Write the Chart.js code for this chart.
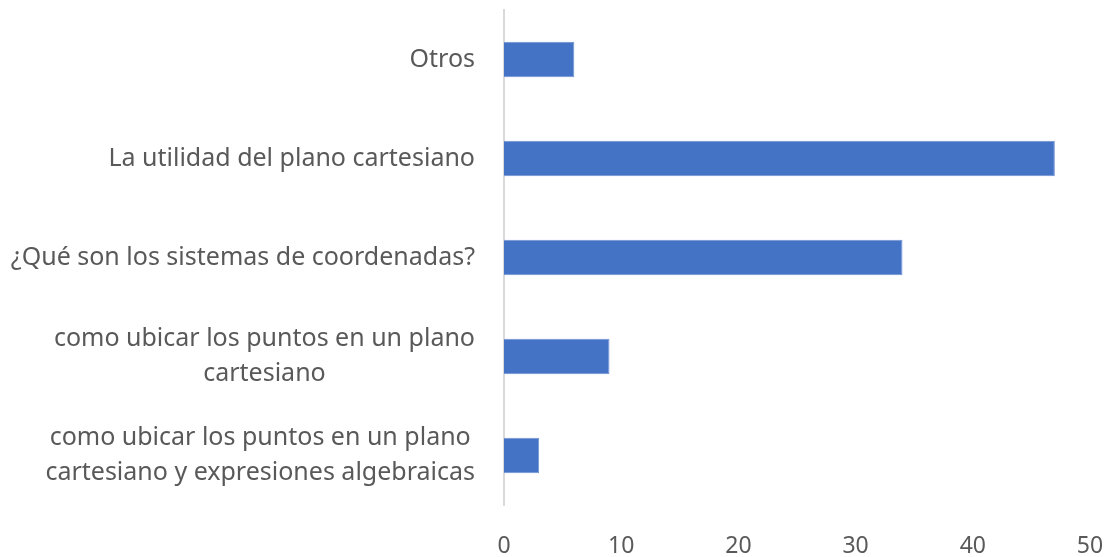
<!DOCTYPE html>
<html>
<head>
<meta charset="utf-8">
<script src="https://cdn.jsdelivr.net/npm/chart.js@4"></script>
<style>
  html, body { margin: 0; padding: 0; background: #fff; }
  #wrap { width: 1109px; height: 557px; }
</style>
</head>
<body>
<div id="wrap"><canvas id="chart"></canvas></div>
<script>
// categories top to bottom, multi-line labels kept as arrays
const categories = [
    ['Otros'],
    ['La utilidad del plano cartesiano'],
    ['¿Qué son los sistemas de coordenadas?'],
    ['como ubicar los puntos en un plano', 'cartesiano'],
    ['como ubicar los puntos en un plano', 'cartesiano y expresiones algebraicas']
];
const values = [6, 47, 34, 9, 3];
const xTicks = [0, 10, 20, 30, 40, 50];

const FONT = '"Noto Sans", "Open Sans", sans-serif';
const TEXT = '#595959';

// draws the category labels: each block right-aligned to the axis, lines centered inside it
const categoryLabels = {
    id: 'categoryLabels',
    afterDraw(chart) {
        const ctx = chart.ctx;
        const y = chart.scales.y;
        const right = chart.chartArea.left - 29;
        const lineH = 35;
        ctx.save();
        ctx.font = '25px ' + FONT;
        ctx.fillStyle = TEXT;
        ctx.textAlign = 'center';
        ctx.textBaseline = 'middle';
        categories.forEach((lines, i) => {
            const cy = y.getPixelForValue(i);
            const w = Math.max(...lines.map(l => ctx.measureText(l).width));
            const cx = right - w / 2;
            const top = cy - (lines.length - 1) * lineH / 2;
            lines.forEach((l, j) => ctx.fillText(l, cx, top + j * lineH));
        });
        ctx.restore();
    }
};

try {
    new Chart(document.getElementById('chart'), {
        type: 'bar',
        data: {
            labels: categories,
            datasets: [{
                data: values,
                backgroundColor: '#4472c4',
                borderColor: '#6f93d3',
                borderWidth: 1,
                barPercentage: 0.36,
                categoryPercentage: 1
            }]
        },
        options: {
            indexAxis: 'y',
            responsive: true,
            maintainAspectRatio: false,
            animation: false,
            layout: { padding: { left: 496, right: 19, top: 10, bottom: 0 } },
            plugins: { legend: { display: false }, tooltip: { enabled: false } },
            scales: {
                x: {
                    min: 0, max: 50,
                    afterBuildTicks: (s) => { s.ticks = xTicks.map(v => ({ value: v })); },
                    afterFit: (s) => { s.height = 52; s.paddingLeft = 0; s.paddingRight = 0; },
                    grid: { display: false },
                    border: { display: false },
                    ticks: { color: TEXT, font: { family: FONT, size: 23, lineHeight: 1 }, padding: 22, maxRotation: 0 }
                },
                y: {
                    grid: { display: false },
                    border: { display: true, color: '#d9d9d9', width: 2 },
                    ticks: { display: false }
                }
            }
        },
        plugins: [categoryLabels]
    });
} catch (e) {
    console.error('Failed to render chart', e);
}
</script>
</body>
</html>
